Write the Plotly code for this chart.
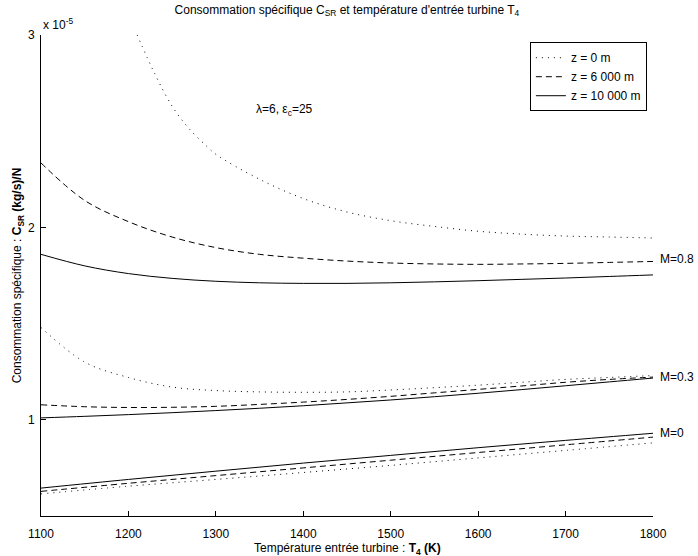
import plotly.graph_objects as go

# Values in units of 1e-5 (kg/s)/N
T_z0_M08 = [1210, 1230, 1250, 1270, 1290, 1300, 1350, 1400, 1450, 1500, 1550, 1600, 1650, 1700, 1750, 1800]
C_z0_M08 = [3.0, 2.80, 2.63, 2.51, 2.42, 2.38, 2.25, 2.15, 2.08, 2.035, 2.005, 1.98, 1.965, 1.955, 1.95, 1.945]

T = [1100, 1150, 1200, 1250, 1300, 1350, 1400, 1450, 1500, 1550, 1600, 1650, 1700, 1750, 1800]
C_z6_M08 = [2.335, 2.14, 2.03, 1.95, 1.895, 1.86, 1.84, 1.825, 1.815, 1.81, 1.808, 1.81, 1.813, 1.818, 1.823]
C_z10_M08 = [1.86, 1.80, 1.76, 1.735, 1.72, 1.712, 1.709, 1.709, 1.712, 1.717, 1.723, 1.73, 1.737, 1.745, 1.753]

C_z0_M03 = [1.48, 1.30, 1.22, 1.17, 1.152, 1.145, 1.143, 1.145, 1.155, 1.167, 1.18, 1.195, 1.21, 1.22, 1.23]
C_z6_M03 = [1.078, 1.068, 1.064, 1.065, 1.07, 1.08, 1.092, 1.106, 1.122, 1.14, 1.158, 1.176, 1.195, 1.21, 1.222]
C_z10_M03 = [1.01, 1.018, 1.027, 1.037, 1.048, 1.06, 1.073, 1.088, 1.103, 1.12, 1.138, 1.157, 1.177, 1.197, 1.217]

T0 = [1100, 1200, 1300, 1400, 1500, 1600, 1700, 1800]
C_z0_M0 = [0.615, 0.655, 0.69, 0.726, 0.763, 0.802, 0.841, 0.88]
C_z6_M0 = [0.628, 0.67, 0.71, 0.75, 0.79, 0.83, 0.87, 0.91]
C_z10_M0 = [0.645, 0.69, 0.733, 0.775, 0.815, 0.855, 0.893, 0.93]

legend_names = ["z = 0 m", "z = 6 000 m", "z = 10 000 m"]
mach_labels = ["M=0.8", "M=0.3", "M=0"]
mach_label_y = [1.836, 1.22, 0.93]
x_ticks = [1100, 1200, 1300, 1400, 1500, 1600, 1700, 1800]
y_ticks = [1, 2, 3]

scale = 1e-5
dashes = ["1px,5px", "6px,4px", "solid"]
FS = 12

fig = go.Figure()

series = [
    (T_z0_M08, C_z0_M08, 0, True), (T, C_z6_M08, 1, True), (T, C_z10_M08, 2, True),
    (T, C_z0_M03, 0, False), (T, C_z6_M03, 1, False), (T, C_z10_M03, 2, False),
    (T0, C_z0_M0, 0, False), (T0, C_z6_M0, 1, False), (T0, C_z10_M0, 2, False),
]
for xs, ys, k, show in series:
    fig.add_trace(go.Scatter(
        x=xs, y=[v * scale for v in ys], mode="lines",
        line=dict(color="black", width=1, dash=dashes[k], shape="spline"),
        name=legend_names[k], showlegend=show, legendgroup=str(k),
    ))

for lab, yv in zip(mach_labels, mach_label_y):
    fig.add_annotation(x=1.008, xref="paper", y=yv * scale, yref="y", text=lab,
                       showarrow=False, xanchor="left", yanchor="middle",
                       font=dict(size=FS, color="black"))

fig.add_annotation(x=1379, y=2.61 * scale, xref="x", yref="y",
                   text="λ=6, ε<sub>c</sub>=25", showarrow=False,
                   font=dict(size=FS, color="black"))
fig.add_annotation(x=0.0, xref="paper", y=1.0, yref="paper", text="x 10<sup>-5</sup>",
                   showarrow=False, xanchor="left", yanchor="bottom", yshift=1,
                   font=dict(size=FS, color="black"))
# x-axis title as annotation to control its position independently from tick labels
fig.add_annotation(x=0.5, xref="paper", y=0, yref="paper",
                   text="Température entrée turbine : <b>T<sub>4</sub> (K)</b>",
                   showarrow=False, xanchor="center", yanchor="top", yshift=-23,
                   font=dict(size=FS, color="black"))

fig.update_layout(
    width=698, height=556,
    margin=dict(l=41, r=45, t=35, b=40, autoexpand=False),
    paper_bgcolor="white", plot_bgcolor="white",
    font=dict(family="Liberation Sans, Arial, sans-serif", size=FS, color="black"),
    title=dict(text="Consommation spécifique C<sub>SR</sub> et température d'entrée turbine T<sub>4</sub>",
               x=0.497, xanchor="center", y=0.99, yanchor="top",
               font=dict(size=FS)),
    legend=dict(x=0.99, y=0.985, xanchor="right", yanchor="top",
                bordercolor="black", borderwidth=1, bgcolor="white",
                font=dict(size=FS), tracegroupgap=0, itemwidth=30),
    xaxis=dict(range=[1100, 1800], tickvals=x_ticks, ticks="inside", ticklen=5,
               showline=True, linecolor="black", linewidth=1, showgrid=False,
               zeroline=False, tickcolor="black", ticklabelstandoff=7, automargin=False),
    yaxis=dict(range=[0.5 * scale, 3 * scale], tickvals=[v * scale for v in y_ticks],
               ticktext=[str(v) for v in y_ticks], ticks="inside", ticklen=5,
               showline=True, linecolor="black", linewidth=1, showgrid=False,
               zeroline=False, tickcolor="black", ticklabelstandoff=3, automargin=False,
               title=dict(text="Consommation spécifique : <b>C<sub>SR</sub> (kg/s)/N</b>",
                          standoff=3, font=dict(size=FS))),
)

fig.write_html("out.html")
